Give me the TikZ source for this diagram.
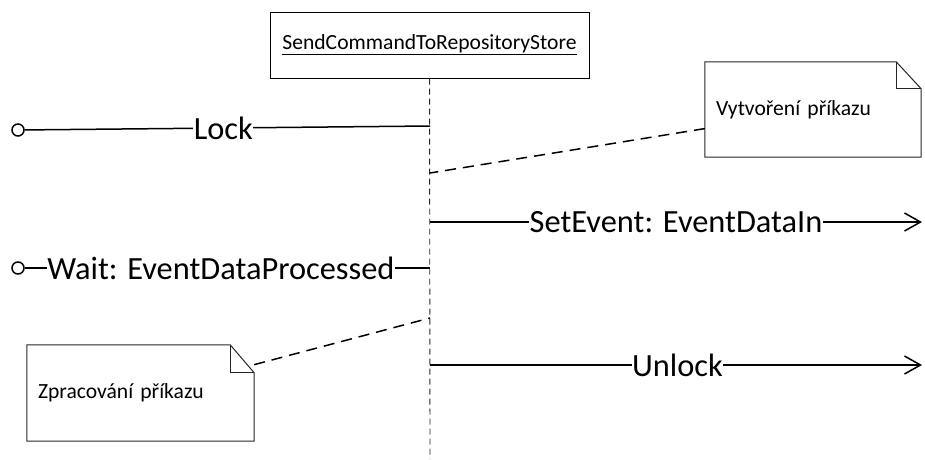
\documentclass[tikz,border=0pt]{standalone}
\usepackage{fontspec}
\setmainfont{Carlito}
\usetikzlibrary{positioning}
\usetikzlibrary{arrows.meta}
\usetikzlibrary{calc}

\begin{document}
\begin{tikzpicture}[x=1pt, y=-1pt,
  obj/.style={rectangle, draw=black, line width=1pt, minimum width=319pt, minimum height=66pt, font=\fontsize{21.6}{25}\selectfont},
  life/.style={line width=0.9pt, color=black!85, dash pattern=on 6pt off 4pt},
  msg/.style={line width=1.5pt, color=black},
  call/.style={msg, -{Straight Barb[length=16pt, width=18pt]}},
  lbl/.style={fill=white, inner sep=0.5pt, font=\fontsize{32.4}{38}\selectfont},
  port/.style={circle, draw=black, line width=1.5pt, minimum size=12pt, inner sep=0pt},
  note/.style={inner xsep=11pt, inner ysep=0pt, align=left, font=\fontsize{21.6}{25}\selectfont},
  notebox/.style={line width=1pt, color=black!85},
  link/.style={line width=1.5pt, color=black, dash pattern=on 11pt off 7pt}]
\useasboundingbox (0,0) rectangle (925,459);
\node (obj) [obj] at (429.5, 45) {\underline{SendCommandToRepositoryStore}};
\coordinate (llend) at (430, 459);
\coordinate (l1) at (430, 126);
\coordinate (l2) at (430, 173);
\coordinate (l3) at (430, 222);
\coordinate (l4) at (430, 268);
\coordinate (l5) at (430, 318);
\coordinate (l6) at (430, 365);
\coordinate (r3) at (922, 222);
\coordinate (r6) at (922, 365);
\node (p1) [port] at (18, 130) {};
\node (p4) [port] at (18, 268) {};
\node (n1) [note, text width=194pt, minimum height=95pt] at (813, 109.5) {Vytvoření příkazu};
\node (n2) [note, text width=205pt, minimum height=96pt] at (140.5, 393) {\raisebox{-10pt}{Zpracování příkazu}};
\draw [life] (obj) -- (llend);
\draw [notebox] (n1.north west) -- ($(n1.north east)+(-25,0)$) -- ($(n1.north east)+(0,27)$) -- (n1.south east) -- (n1.south west) -- cycle;
\draw [notebox] ($(n1.north east)+(-25,0)$) |- ($(n1.north east)+(0,27)$);
\draw [notebox] (n2.north west) -- ($(n2.north east)+(-24,0)$) -- ($(n2.north east)+(0,28)$) -- (n2.south east) -- (n2.south west) -- cycle;
\draw [notebox] ($(n2.north east)+(-24,0)$) |- ($(n2.north east)+(0,28)$);
\draw [msg] (p1) -- node [lbl, pos=0.49] {Lock} (l1);
\draw [link] (n1.190) -- (l2);
\draw [call] (l3) -- node [lbl, midway] {SetEvent: EventDataIn} (r3);
\draw [msg] (p4) -- node [lbl, pos=0.484] {Wait: EventDataProcessed} (l4);
\draw [link] (n2.14) -- (l5);
\draw [call] (l6) -- node [lbl, pos=0.503] {Unlock} (r6);
\end{tikzpicture}
\end{document}
